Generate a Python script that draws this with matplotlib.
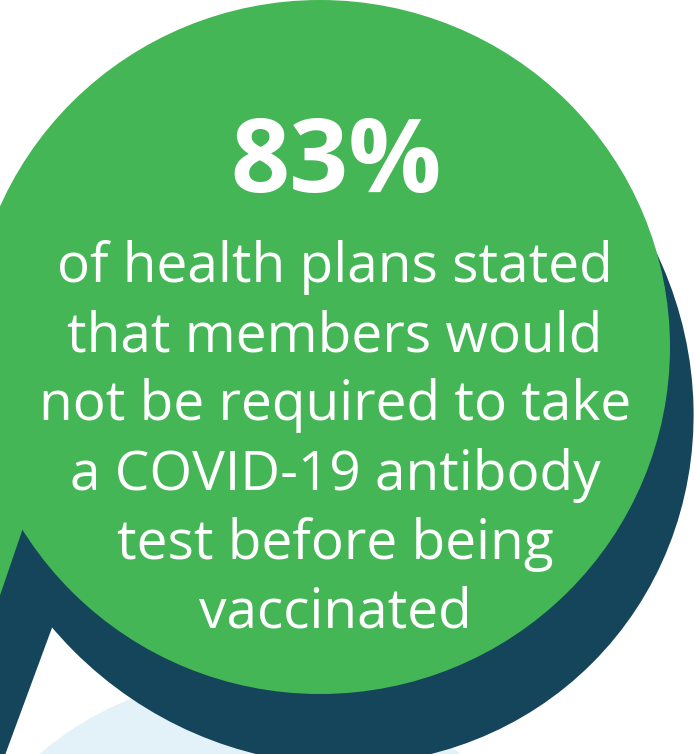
import matplotlib
matplotlib.use("Agg")
import matplotlib.pyplot as plt
from matplotlib.patches import Ellipse, Circle, Polygon

# Content of the call-out
headline = "83%"
body_lines = [
    "of health plans stated",
    "that members would",
    "not be required to take",
    "a COVID-19 antibody",
    "test before being",
    "vaccinated",
]

GREEN = "#44b655"
NAVY = "#15455b"
PALE = "#e3f2f9"

W, H = 694, 754
fig = plt.figure(figsize=(W / 100, H / 100), dpi=100)
ax = fig.add_axes([0, 0, 1, 1])
ax.set_xlim(0, W)
ax.set_ylim(H, 0)
ax.axis("off")

# Pale circle peeking in at the bottom
ax.add_patch(Circle((250, 999), 323, color=PALE, zorder=1, lw=0))

# Navy shadow bubble (body + tail)
ax.add_patch(Ellipse((327, 398), 750, 716, angle=45, color=NAVY, zorder=2, lw=0))
ax.add_patch(Polygon([(70, 579), (-30, 850), (-250, 500)], closed=True,
                     color=NAVY, zorder=2, lw=0))

# Green front bubble (body + tail)
ax.add_patch(Ellipse((320, 347), 700, 694, color=GREEN, zorder=3, lw=0))
ax.add_patch(Polygon([(-120, 350), (34.5, 494.5), (-70, 800)], closed=True,
                     color=GREEN, zorder=3, lw=0))

# Text
ax.text(336, 192, headline, ha="center", va="baseline", color="white",
        fontsize=74.5, fontweight="bold", family="Open Sans", zorder=4)

first_baseline, step = 282, 69.2
for i, line in enumerate(body_lines):
    ax.text(335, first_baseline + i * step, line, ha="center", va="baseline",
            color="white", fontsize=39.6, family="Open Sans", zorder=4)

fig.savefig("out.png", dpi=100)
